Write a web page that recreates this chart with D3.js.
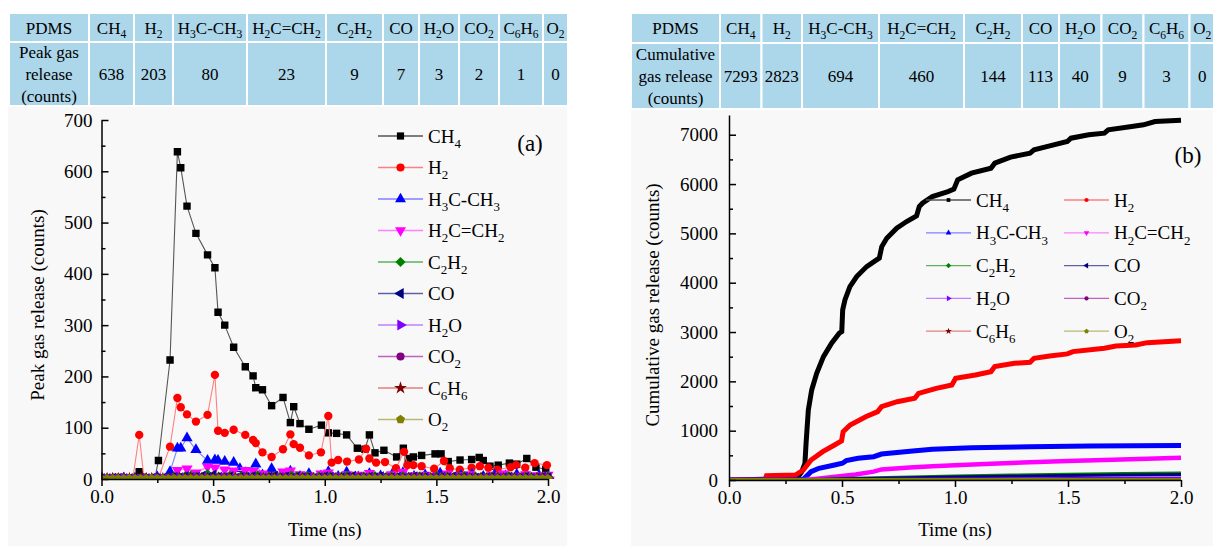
<!DOCTYPE html>
<html lang="en">
<head>
<meta charset="UTF-8">
<title>PDMS gas release</title>
<script src="https://d3js.org/d3.v7.min.js"></script>
<style>
  body { margin: 0; background: #fff; }
  svg { font-family: "Liberation Serif", "Times New Roman", serif; }
  .axis .domain, .axis line { stroke: #000; stroke-width: 1.5; }
  .axis text { font-family: "Liberation Serif", "Times New Roman", serif; font-size: 19px; fill: #000; }
</style>
</head>
<body>
<script>
// -- table data --
const gasNames = ["CH_4", "H_2", "H_3C-CH_3", "H_2C=CH_2", "C_2H_2", "CO", "H_2O", "CO_2", "C_6H_6", "O_2"];
const peakCounts = [638, 203, 80, 23, 9, 7, 3, 2, 1, 0];
const cumulativeCounts = [7293, 2823, 694, 460, 144, 113, 40, 9, 3, 0];

// -- (a) peak release, main species (time in ns, counts) --
const ch4Time = [0, 0.04, 0.08, 0.12, 0.15, 0.169, 0.19, 0.22, 0.24, 0.255, 0.307, 0.340, 0.355, 0.383, 0.423, 0.475, 0.508, 0.522, 0.552, 0.592, 0.644, 0.679, 0.691, 0.721, 0.762, 0.813, 0.846, 0.861, 0.889, 0.929, 0.985, 1.016, 1.053, 1.098, 1.146, 1.180, 1.200, 1.225, 1.265, 1.322, 1.352, 1.374, 1.397, 1.434, 1.494, 1.521, 1.553, 1.606, 1.658, 1.692, 1.710, 1.740, 1.777, 1.827, 1.860, 1.905, 1.946, 1.990];
const ch4Peak = [2, 0, 3, 1, 0, 14, 2, 0, 3, 36, 232, 638, 607, 532, 479, 437, 412, 325, 300, 257, 219, 201, 178, 174, 143, 159, 110, 141, 108, 97, 105, 90, 89, 86, 60, 58, 86, 51, 56, 43, 60, 40, 43, 46, 49, 49, 34, 37, 38, 42, 36, 25, 27, 31, 29, 40, 23, 19];

const h2Time = [0, 0.05, 0.10, 0.14, 0.169, 0.19, 0.23, 0.255, 0.307, 0.340, 0.355, 0.383, 0.423, 0.475, 0.508, 0.522, 0.552, 0.592, 0.644, 0.679, 0.691, 0.721, 0.762, 0.813, 0.846, 0.861, 0.889, 0.929, 0.983, 1.016, 1.031, 1.060, 1.100, 1.153, 1.185, 1.200, 1.230, 1.270, 1.319, 1.355, 1.370, 1.397, 1.434, 1.490, 1.534, 1.560, 1.605, 1.658, 1.695, 1.733, 1.774, 1.832, 1.857, 1.898, 1.940, 1.995];
const h2Peak = [1, 2, 0, 0, 86, 3, 0, 2, 63, 158, 140, 126, 112, 125, 203, 94, 90, 96, 86, 76, 70, 52, 43, 58, 87, 68, 61, 46, 52, 123, 32, 37, 34, 38, 59, 40, 32, 33, 21, 53, 27, 27, 25, 20, 35, 21, 18, 22, 25, 22, 18, 23, 27, 22, 31, 27];

const c2h6Time = [0, 0.05, 0.10, 0.15, 0.20, 0.25, 0.307, 0.340, 0.355, 0.383, 0.423, 0.475, 0.508, 0.522, 0.552, 0.592, 0.620, 0.644, 0.691, 0.721, 0.762, 0.800, 0.846, 0.889, 0.929, 0.983, 1.016, 1.060, 1.098, 1.150, 1.200, 1.250, 1.300, 1.350, 1.400, 1.450, 1.517, 1.560, 1.610, 1.660, 1.710, 1.760, 1.810, 1.860, 1.910, 1.960, 2.000];
const c2h6Peak = [3, 0, 2, 1, 0, 4, 14, 60, 60, 80, 57, 36, 37, 36, 34, 32, 20, 12, 29, 8, 20, 6, 15, 5, 10, 6, 14, 5, 13, 4, 10, 6, 8, 12, 5, 8, 11, 4, 7, 9, 5, 8, 6, 9, 4, 7, 5];

const c2h4Time = [0, 0.05, 0.10, 0.15, 0.20, 0.25, 0.30, 0.340, 0.383, 0.423, 0.475, 0.508, 0.552, 0.592, 0.644, 0.679, 0.721, 0.762, 0.813, 0.846, 0.889, 0.929, 0.983, 1.016, 1.060, 1.100, 1.150, 1.200, 1.250, 1.300, 1.350, 1.400, 1.450, 1.500, 1.550, 1.600, 1.650, 1.700, 1.750, 1.800, 1.850, 1.900, 1.950, 2.000];
const c2h4Peak = [0, 2, 0, 1, 0, 3, 2, 17, 20, 12, 24, 22, 18, 16, 17, 15, 10, 8, 14, 16, 9, 7, 10, 12, 6, 9, 8, 11, 5, 9, 13, 7, 8, 6, 10, 7, 9, 5, 8, 10, 6, 9, 7, 8];

// -- (a) minor species, sampled every 0.025 ns --
const gridStep = 0.025;
const c2h2Peak = [0,1,0,0,1,0,0,1,0, 0,1,0,2,4,3,5,6,4, 3,9,5,4,3,6,2,5,4, 3,6,2,4,5,3,2,6,4, 3,5,2,4,3,5,2,4,6, 3,2,4,3,5,2,3,4,2, 5,3,2,4,3,2,5,3,4, 2,3,5,2,4,3,2,4,3, 2,5,3,2,4,3,2,3,4];
const coPeak = [0,0,1,0,0,0,1,0,0, 0,0,1,1,3,2,4,2,3, 5,2,7,3,2,4,1,3,2, 4,2,1,3,5,2,3,1,4, 2,3,1,2,4,3,1,2,3, 5,2,1,3,2,4,1,2,3, 1,2,4,2,3,1,2,3,2, 4,1,3,2,1,3,2,4,1, 2,3,1,2,3,1,2,3,2];
const h2oPeak = [0,0,0,0,1,0,0,0,0, 0,0,0,0,1,2,1,0,3, 1,2,0,1,2,1,0,1,3, 1,0,2,1,0,1,2,0,1, 1,0,2,1,0,1,2,0,1, 0,2,1,0,1,0,2,1,0, 1,2,0,1,0,1,2,0,1, 0,1,0,2,1,0,1,0,1, 2,0,1,0,1,0,1,0,1];
const co2Peak = [0,0,0,0,0,0,0,0,0, 0,0,0,0,1,0,0,2,0, 1,0,0,1,0,0,0,1,0, 0,0,1,0,0,0,1,0,0, 1,0,0,0,1,0,0,0,1, 0,0,0,1,0,0,0,1,0, 0,0,1,0,0,0,0,1,0, 0,1,0,0,0,1,0,0,0, 1,0,0,0,0,1,0,0,0];
const c6h6Peak = [0,0,0,0,0,0,0,0,0, 0,0,0,0,0,0,0,1,0, 0,0,0,0,0,0,0,0,0, 0,0,0,0,0,0,0,0,0, 0,0,0,0,0,0,0,0,0, 0,0,0,0,0,0,0,0,0, 0,0,0,0,0,0,0,0,0, 0,0,0,0,0,0,0,0,0, 0,0,0,0,0,0,0,0,0];
const o2Peak = [0,0,0,0,0,0,0,0,0, 0,0,0,0,0,0,0,0,0, 0,0,0,0,0,0,0,0,0, 0,0,0,0,0,0,0,0,0, 0,0,0,0,0,0,0,0,0, 0,0,0,0,0,0,0,0,0, 0,0,0,0,0,0,0,0,0, 0,0,0,0,0,0,0,0,0, 0,0,0,0,0,0,0,0,0];

// -- (b) cumulative release --
const cumCh4Time = [0, 0.30, 0.322, 0.336, 0.341, 0.351, 0.366, 0.388, 0.418, 0.454, 0.488, 0.499, 0.503, 0.513, 0.535, 0.565, 0.609, 0.653, 0.665, 0.676, 0.698, 0.742, 0.786, 0.830, 0.842, 0.856, 0.900, 0.969, 0.995, 1.012, 1.073, 1.159, 1.176, 1.246, 1.332, 1.350, 1.419, 1.497, 1.513, 1.592, 1.661, 1.678, 1.782, 1.834, 1.885, 2.0];
const cumCh4 = [0, 30, 168, 338, 744, 1420, 1826, 2164, 2501, 2772, 2976, 3008, 3448, 3651, 3921, 4124, 4327, 4462, 4497, 4732, 4902, 5105, 5240, 5355, 5544, 5612, 5747, 5848, 5896, 6085, 6221, 6322, 6424, 6546, 6627, 6694, 6775, 6862, 6930, 6998, 7032, 7099, 7167, 7201, 7268, 7293];
const cumH2Time = [0, 0.160, 0.166, 0.294, 0.329, 0.363, 0.415, 0.467, 0.498, 0.505, 0.536, 0.605, 0.658, 0.675, 0.744, 0.822, 0.839, 0.917, 0.986, 1.003, 1.090, 1.159, 1.176, 1.263, 1.332, 1.350, 1.419, 1.497, 1.522, 1.661, 1.712, 1.799, 1.851, 2.0];
const cumH2 = [0, 0, 87, 100, 203, 406, 575, 710, 791, 980, 1116, 1284, 1386, 1487, 1588, 1656, 1757, 1859, 1927, 2062, 2130, 2197, 2299, 2367, 2387, 2468, 2515, 2556, 2603, 2671, 2718, 2738, 2785, 2823];
const cumC2h6Time = [0, 0.30, 0.329, 0.363, 0.398, 0.467, 0.502, 0.519, 0.571, 0.640, 0.675, 0.813, 0.900, 1.073, 1.332, 1.600, 2.0];
const cumC2h6 = [0, 0, 14, 168, 237, 304, 339, 392, 440, 473, 527, 588, 622, 655, 675, 690, 700];
const cumC2h4Time = [0, 0.33, 0.40, 0.50, 0.56, 0.64, 0.675, 0.80, 0.90, 1.0, 1.16, 1.33, 1.50, 1.70, 2.0];
const cumC2h4 = [0, 0, 30, 80, 110, 170, 215, 255, 280, 300, 330, 360, 385, 410, 450];
const cumMinorTime = [0, 0.30, 0.50, 0.75, 1.0, 1.25, 1.5, 1.75, 2.0];
const cumC2h2 = [0, 0, 30, 55, 80, 100, 115, 130, 144];
const cumCo = [0, 0, 20, 40, 60, 75, 90, 102, 113];
const cumH2o = [0, 0, 8, 14, 20, 26, 31, 36, 40];
const cumCo2 = [0, 0, 2, 3, 5, 6, 7, 8, 9];
const cumC6h6 = [0, 0, 0, 1, 1, 2, 2, 3, 3];
const cumO2 = [0, 0, 0, 0, 0, 0, 0, 0, 0];

// -- styles (markers, colours) --
const symbolPentagon = {
  draw(ctx, size) {
    const r = Math.sqrt(size / 2.378);
    for (let i = 0; i < 5; i++) {
      const a = -Math.PI / 2 + i * 2 * Math.PI / 5;
      if (i) ctx.lineTo(r * Math.cos(a), r * Math.sin(a)); else ctx.moveTo(r * Math.cos(a), r * Math.sin(a));
    }
    ctx.closePath();
  }
};
const styles = [
  { color: "#000000", line: "#555555", sym: d3.symbolSquare, rot: 0 },
  { color: "#ff0000", line: "#ff8080", sym: d3.symbolCircle, rot: 0 },
  { color: "#0000ff", line: "#8080ff", sym: d3.symbolTriangle, rot: 0 },
  { color: "#ff00ff", line: "#ff80ff", sym: d3.symbolTriangle, rot: 180 },
  { color: "#008000", line: "#60b060", sym: d3.symbolSquare, rot: 45 },
  { color: "#000080", line: "#6060a8", sym: d3.symbolTriangle, rot: -90 },
  { color: "#8000ff", line: "#c080ff", sym: d3.symbolTriangle, rot: 90 },
  { color: "#800080", line: "#c060c0", sym: d3.symbolCircle, rot: 0 },
  { color: "#800000", line: "#e08080", sym: d3.symbolStar, rot: 0 },
  { color: "#808000", line: "#b8b870", sym: symbolPentagon, rot: 0 }
];

const gridTimes = arr => arr.map((v, i) => i * gridStep);
const peakSeries = [
  d3.zip(ch4Time, ch4Peak), d3.zip(h2Time, h2Peak), d3.zip(c2h6Time, c2h6Peak), d3.zip(c2h4Time, c2h4Peak),
  d3.zip(gridTimes(c2h2Peak), c2h2Peak), d3.zip(gridTimes(coPeak), coPeak), d3.zip(gridTimes(h2oPeak), h2oPeak),
  d3.zip(gridTimes(co2Peak), co2Peak), d3.zip(gridTimes(c6h6Peak), c6h6Peak), d3.zip(gridTimes(o2Peak), o2Peak)
];
const cumSeries = [
  d3.zip(cumCh4Time, cumCh4), d3.zip(cumH2Time, cumH2), d3.zip(cumC2h6Time, cumC2h6), d3.zip(cumC2h4Time, cumC2h4),
  d3.zip(cumMinorTime, cumC2h2), d3.zip(cumMinorTime, cumCo), d3.zip(cumMinorTime, cumH2o),
  d3.zip(cumMinorTime, cumCo2), d3.zip(cumMinorTime, cumC6h6), d3.zip(cumMinorTime, cumO2)
];

const svg = d3.select("body").append("svg").attr("width", 1213).attr("height", 546);

// texte avec indices (CH_4 -> CH4 en indice)
function rich(g, x, y, str, fs, anchor) {
  const t = g.append("text").attr("x", x).attr("y", y).attr("font-size", fs)
    .attr("text-anchor", anchor || "start").attr("fill", "#000");
  let down = false;
  str.split(/(_\d+)/).forEach(p => {
    if (!p) return;
    if (p[0] === "_") {
      t.append("tspan").attr("dy", fs * 0.28).attr("font-size", fs * 0.68).text(p.slice(1));
      down = true;
    } else {
      const s = t.append("tspan").text(p);
      if (down) { s.attr("dy", -fs * 0.28); down = false; }
    }
  });
  return t;
}

function drawTable(b, top, mid, bottom, label, values) {
  const g = svg.append("g");
  for (let i = 0; i < b.length - 1; i++) {
    g.append("rect").attr("x", b[i]).attr("y", top).attr("width", b[i + 1] - b[i]).attr("height", mid - top)
      .attr("fill", "#acd6ea").attr("stroke", "#fff").attr("stroke-width", 2);
    g.append("rect").attr("x", b[i]).attr("y", mid).attr("width", b[i + 1] - b[i]).attr("height", bottom - mid)
      .attr("fill", "#acd6ea").attr("stroke", "#fff").attr("stroke-width", 2);
    const cx = (b[i] + b[i + 1]) / 2;
    rich(g, cx, (top + mid) / 2 + 6, i === 0 ? "PDMS" : gasNames[i - 1], 17, "middle");
    if (i > 0) rich(g, cx, (mid + bottom) / 2 + 6, String(values[i - 1]), 17, "middle");
  }
  const c = (mid + bottom) / 2;
  label.forEach((l, k) => rich(g, (b[0] + b[1]) / 2, c + (k - 1) * 22 + 6, l, 17, "middle"));
}

function drawChart(o) {
  const { x, y, clipId, series, big, small, lw } = o;
  svg.append("clipPath").attr("id", clipId).append("rect")
    .attr("x", x.range()[0]).attr("y", 100).attr("width", x.range()[1] - x.range()[0] + 8).attr("height", y.range()[0] - 100);
  const plot = svg.append("g").attr("clip-path", `url(#${clipId})`);
  series.forEach((pts, i) => {
    const st = styles[i];
    plot.append("path").datum(pts)
      .attr("d", d3.line().x(d => x(d[0])).y(d => y(d[1])))
      .attr("fill", "none").attr("stroke", lw ? st.color : st.line).attr("stroke-width", lw ? lw[i] : 1.1);
    if (!lw) {
      plot.append("g").selectAll("path").data(pts).join("path")
        .attr("transform", d => `translate(${x(d[0])},${y(d[1])}) rotate(${st.rot})`)
        .attr("d", d3.symbol(st.sym, i < 4 ? big : small)())
        .attr("fill", st.color);
    }
  });

  const y0 = y.range()[0];
  svg.append("g").attr("class", "axis").attr("transform", `translate(0,${y0})`)
    .call(d3.axisBottom(x).tickValues([0, 0.5, 1, 1.5, 2]).tickFormat(d3.format(".1f"))
      .tickSizeInner(7).tickSizeOuter(0).tickPadding(4));
  svg.append("g").attr("class", "axis").attr("transform", `translate(0,${y0})`)
    .call(d3.axisBottom(x).tickValues([0.25, 0.75, 1.25, 1.75]).tickFormat("").tickSize(4))
    .select(".domain").remove();
  const x0 = x.range()[0];
  svg.append("g").attr("class", "axis").attr("transform", `translate(${x0},0)`)
    .call(d3.axisLeft(y).tickValues(o.major).tickFormat(d3.format("d"))
      .tickSizeInner(-7).tickSizeOuter(0).tickPadding(o.pad));
  svg.append("g").attr("class", "axis").attr("transform", `translate(${x0},0)`)
    .call(d3.axisLeft(y).tickValues(o.minor).tickFormat("").tickSize(-4))
    .select(".domain").remove();

  svg.append("text").attr("x", (x.range()[0] + x.range()[1]) / 2).attr("y", 536)
    .attr("text-anchor", "middle").attr("font-size", 19).text("Time (ns)");
  svg.append("text").attr("transform", `translate(${o.titleX},305) rotate(-90)`)
    .attr("text-anchor", "middle").attr("font-size", 19).text(o.title);
  svg.append("text").attr("x", o.tag[0]).attr("y", o.tag[1]).attr("text-anchor", "middle")
    .attr("font-size", 23).text(o.tag[2]);
}

function legendItem(x1, yy, i, name, msize) {
  const st = styles[i];
  svg.append("line").attr("x1", x1).attr("x2", x1 + 45).attr("y1", yy).attr("y2", yy)
    .attr("stroke", st.line).attr("stroke-width", 1.3);
  svg.append("path").attr("transform", `translate(${x1 + 22.5},${yy}) rotate(${st.rot})`)
    .attr("d", d3.symbol(st.sym, msize)()).attr("fill", st.color);
  rich(svg, x1 + 50, yy + 6.5, name, 19, "start");
}

// -- panneaux gris --
svg.append("rect").attr("x", 8).attr("y", 105).attr("width", 559).attr("height", 441).attr("fill", "#f8f8f8");
svg.append("rect").attr("x", 631).attr("y", 108).attr("width", 582).attr("height", 438).attr("fill", "#f8f8f8");

drawTable([9, 89, 134, 173, 247, 326, 383, 419, 459, 499, 543, 568], 13, 42, 106,
  ["Peak gas", "release", "(counts)"], peakCounts);
drawTable([631, 720, 761.5, 802, 879, 964, 1022, 1059, 1101.5, 1143.5, 1189.5, 1215], 13, 43, 109,
  ["Cumulative", "gas release", "(counts)"], cumulativeCounts);

// -- (a) --
const xL = d3.scaleLinear().domain([0, 2]).range([101.5, 548]);
const yL = d3.scaleLinear().domain([0, 700]).range([479, 120]);
drawChart({ x: xL, y: yL, clipId: "clipA", series: peakSeries, big: 55, small: 58,
  major: d3.range(0, 701, 100), minor: d3.range(50, 700, 100), pad: 9,
  title: "Peak gas release (counts)", titleX: 44, tag: [530, 151, "(a)"] });
gasNames.forEach((n, i) => legendItem(378, 136 + i * 31.5, i, n, 52));

// -- (b) --
const xR = d3.scaleLinear().domain([0, 2]).range([729, 1181]);
const yR = d3.scaleLinear().domain([0, 7400]).range([480, 115]);
drawChart({ x: xR, y: yR, clipId: "clipB", series: cumSeries, lw: [5, 5, 5, 4.5, 3, 3, 3, 3, 3, 4],
  major: d3.range(0, 7001, 1000), minor: d3.range(500, 7400, 1000), pad: 11,
  title: "Cumulative gas release (counts)", titleX: 659, tag: [1188, 163, "(b)"] });
gasNames.forEach((n, i) => legendItem(i % 2 ? 1064 : 926, 200 + Math.floor(i / 2) * 32.8, i, n, 14));
</script>
</body>
</html>
